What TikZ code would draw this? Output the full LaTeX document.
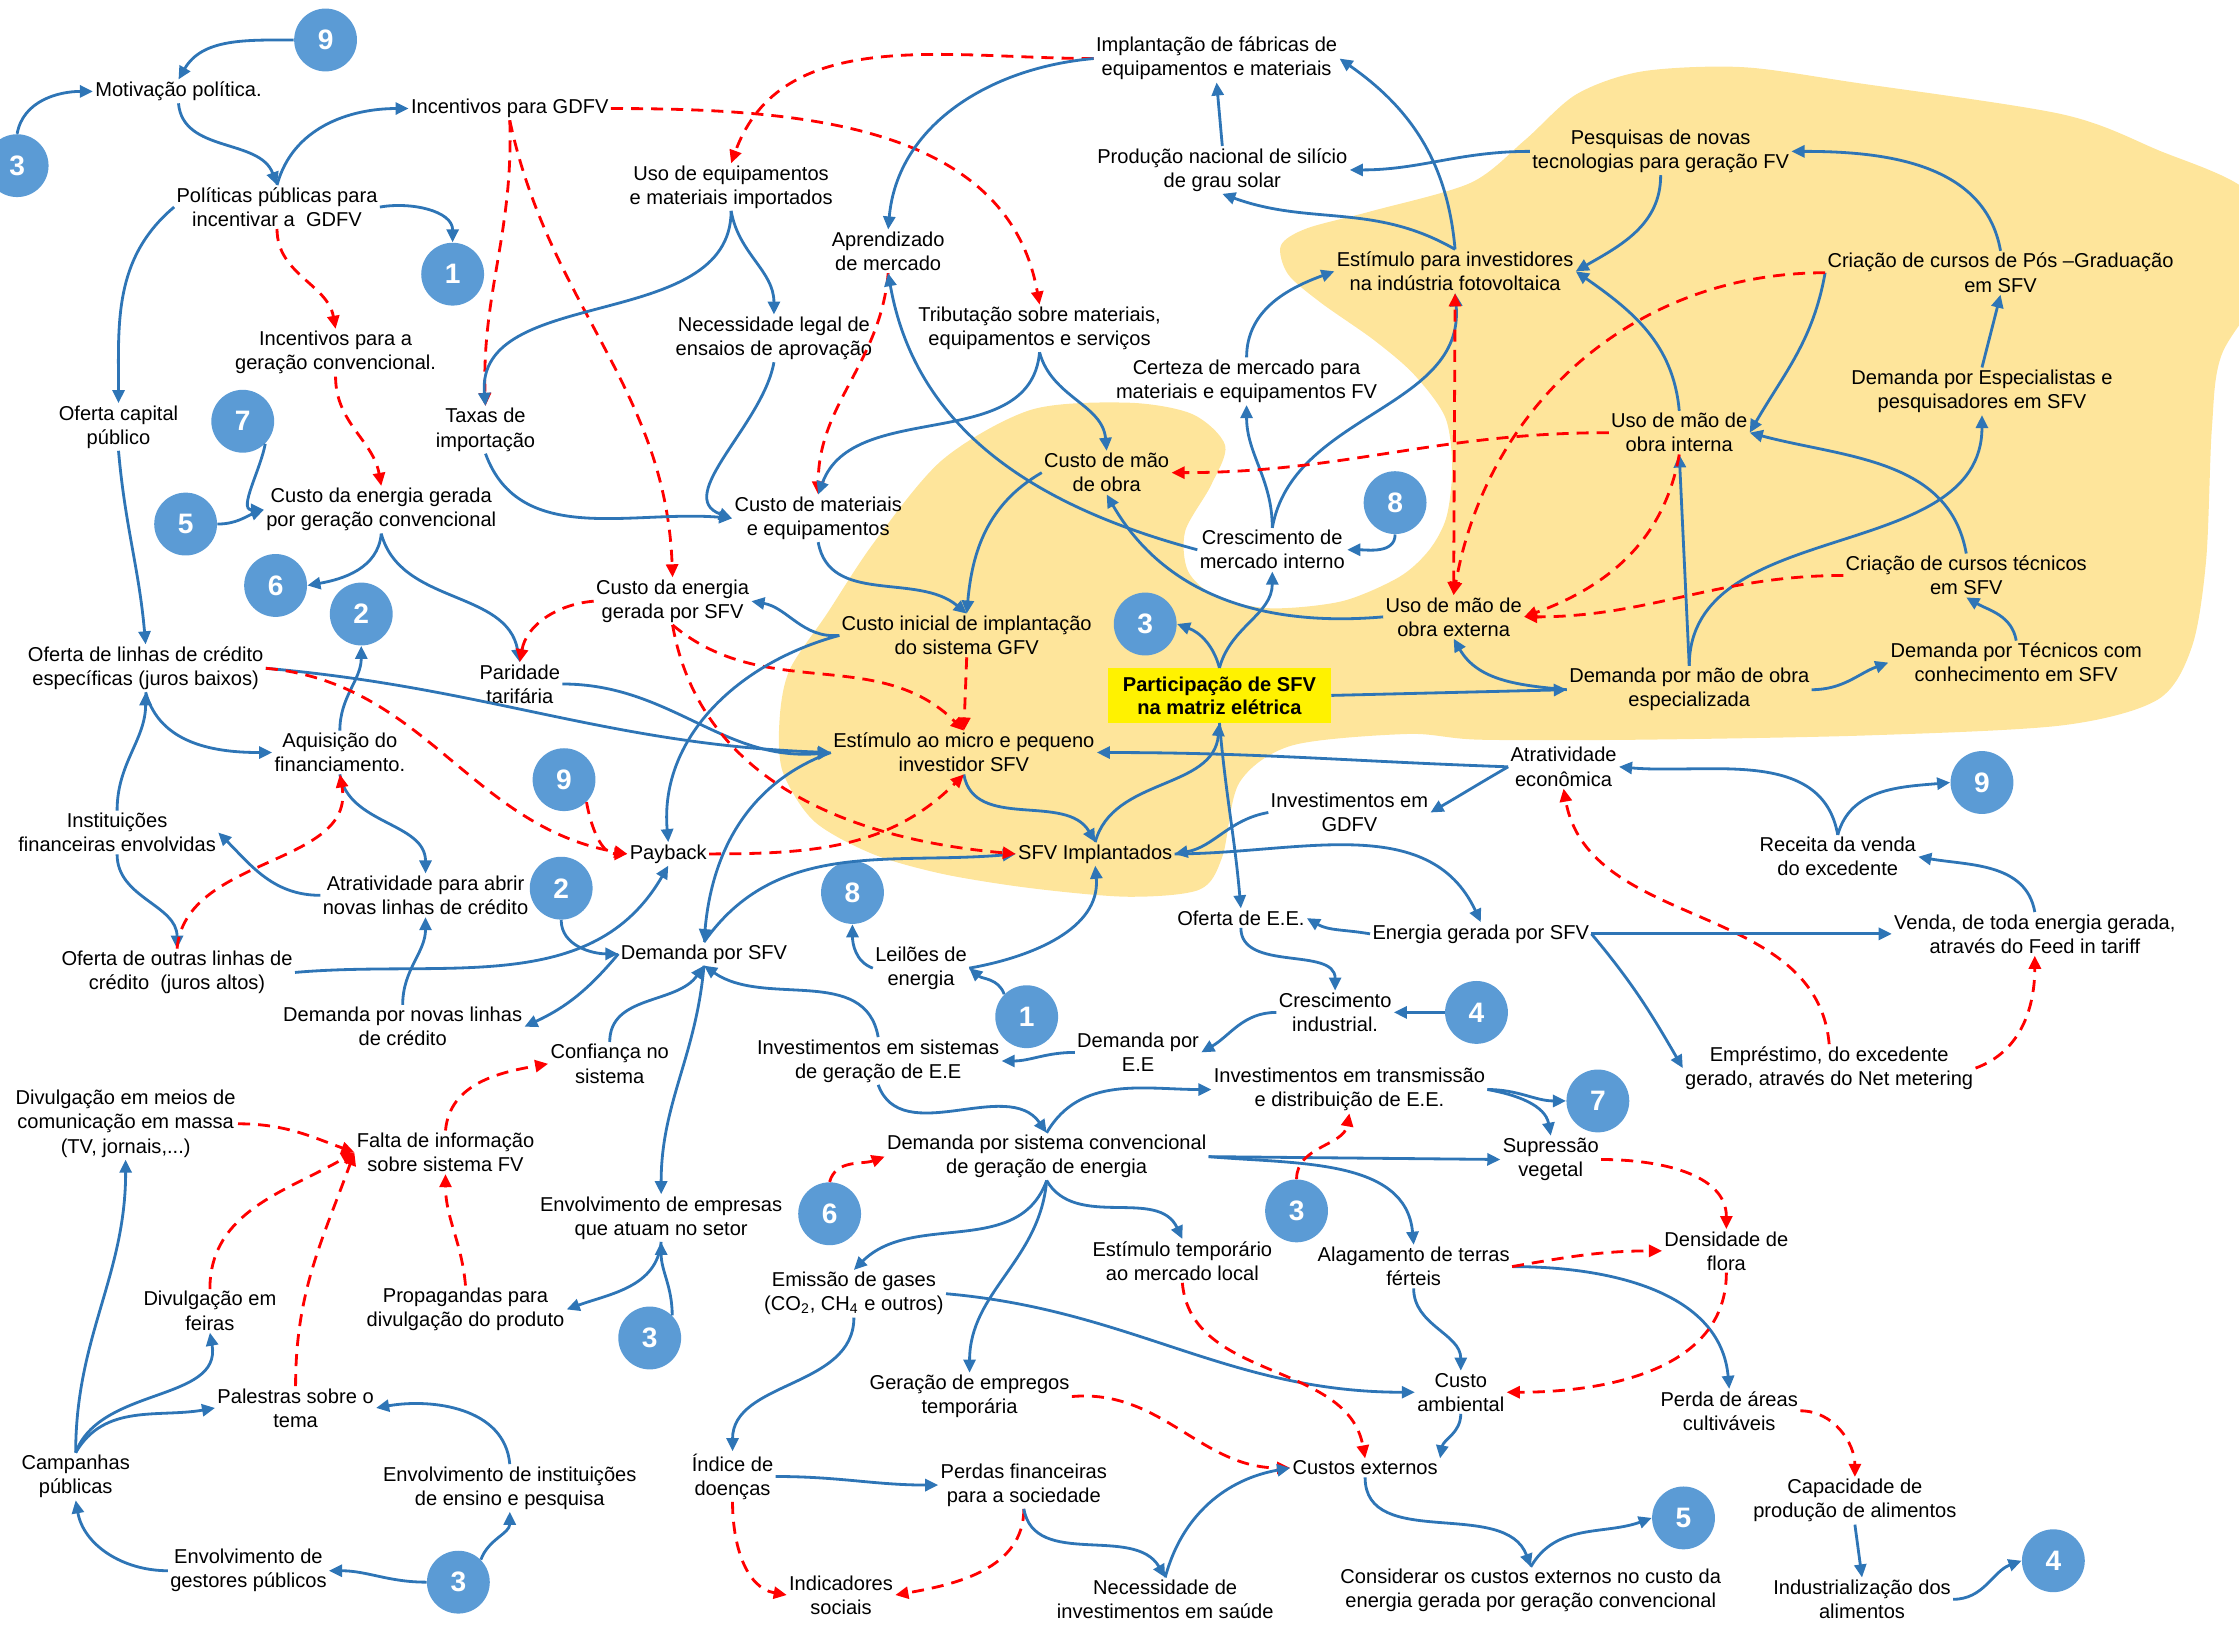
\documentclass[tikz,border=0pt]{standalone}
\usepackage{fontspec}
\setmainfont{Liberation Sans}
\usetikzlibrary{arrows.meta}
\definecolor{lineblue}{RGB}{46,117,182}
\definecolor{numblue}{RGB}{91,155,213}
\definecolor{blobyellow}{RGB}{254,229,155}

\begin{document}
\begin{tikzpicture}[x=0.025cm, y=-0.025cm,
    every node/.style={align=center, inner sep=1pt, font=\fontsize{10}{12}\selectfont},
    badge/.style={circle, fill=numblue, text=white, minimum size=1.1cm, inner sep=0pt, font=\fontsize{14}{14}\selectfont\bfseries},
    part/.style={fill=yellow, minimum width=3.9cm, minimum height=0.95cm, font=\fontsize{10}{11.5}\selectfont\bfseries},
    arr/.style={draw=lineblue, line width=1.4pt, -{Triangle[length=6.5pt,width=6pt]}},
    darr/.style={draw=red, line width=1.4pt, dash pattern=on 6pt off 4pt, -{Triangle[length=6.5pt,width=6pt]}},
    darrboth/.style={darr, {Triangle[length=6.5pt,width=6pt]}-{Triangle[length=6.5pt,width=6pt]}}]

    \useasboundingbox (0, 0) rectangle (1568, 1139);

    \fill [blobyellow] plot [smooth cycle, tension=0.5] coordinates {
        (612,380) (660,322) (722,287) (790,282) (835,290) (858,312) (848,340) (830,372)
        (832,400) (852,418) (890,426) (940,421) (980,404) (1001,385) (1013,362) (1017,327)
        (1012,292) (990,262) (962,238) (925,212) (902,192) (897,172) (915,160) (960,148)
        (1030,128) (1068,98) (1104,66) (1150,50) (1220,47) (1300,58) (1444,80) (1511,105)
        (1575,135) (1590,190) (1556,248) (1549,300) (1545,392) (1535,453) (1511,490) (1444,508)
        (1308,515) (1150,518) (1036,518) (986,514) (905,522) (868,548) (856,600) (840,623)
        (790,628) (722,622) (660,612) (611,598) (570,575) (548,540) (546,503) (553,469) (579,430)};

    \node (motiv) at (125, 64) {Motivação política.};
    \node (incgd) at (357, 76) {Incentivos para GDFV};
    \node (polit) at (194, 145) {Políticas públicas para\\incentivar a\ \ GDFV};
    \node (incconv) at (235, 247) {Incentivos para a\\geração convencional.};
    \node (ofcap) at (83, 299) {Oferta capital\\público};
    \node (custconv) at (267, 357) {Custo da energia gerada\\por geração convencional};
    \node (taxas) at (340, 301) {Taxas de\\importação};
    \node (usoeq) at (512, 131) {Uso de equipamentos\\e materiais importados};
    \node (necleg) at (542, 237) {Necessidade legal de\\ensaios de aprovação};
    \node (aprend) at (622, 176) {Aprendizado\\de mercado};
    \node (implfab) at (852, 41) {Implantação de fábricas de\\equipamentos e materiais};
    \node (prodsil) at (856, 119) {Produção nacional de silício\\de grau solar};
    \node (tribut) at (728, 230) {Tributação sobre materiais,\\equipamentos e serviços};
    \node (certeza) at (873, 267) {Certeza de mercado para\\materiais e equipamentos FV};
    \node (custmo) at (775, 331) {Custo de mão\\de obra};
    \node (custmat) at (573, 363) {Custo de materiais\\e equipamentos};
    \node (cresc) at (891, 385) {Crescimento de\\mercado interno};
    \node (estinv) at (1019, 190) {Estímulo para investidores\\na indústria fotovoltaica};
    \node (pesq) at (1163, 106) {Pesquisas de novas\\tecnologias para geração FV};
    \node (criapos) at (1401, 191) {Criação de cursos de Pós –Graduação\\em SFV};
    \node (demesp) at (1388, 274) {Demanda por Especialistas e\\pesquisadores em SFV};
    \node (usoint) at (1176, 303) {Uso de mão de\\obra interna};
    \node (criatec) at (1377, 403) {Criação de cursos técnicos\\em SFV};
    \node (demtec) at (1412, 464) {Demanda por Técnicos com\\conhecimento em SFV};
    \node (demmo) at (1183, 483) {Demanda por mão de obra\\especializada};
    \node (usoext) at (1018, 432) {Uso de mão de\\obra externa};
    \node [part] (partic) at (854, 487) {Participação de SFV\\na matriz elétrica};
    \node (custini) at (677, 445) {Custo inicial de implantação\\do sistema GFV};
    \node (custsfv) at (471, 421) {Custo da energia\\gerada por SFV};
    \node (parid) at (364, 479) {Paridade\\tarifária};
    \node (oflin) at (102, 468) {Oferta de linhas de crédito\\específicas (juros baixos)};
    \node (aquis) at (238, 527) {Aquisição do\\financiamento.};
    \node (estmic) at (675, 527) {Estímulo ao micro e pequeno\\investidor SFV};
    \node (instfin) at (82, 583) {Instituições\\financeiras envolvidas};
    \node (payback) at (468, 598) {Payback};
    \node (atrab) at (298, 627) {Atratividade para abrir\\novas linhas de crédito};
    \node (ofout) at (124, 681) {Oferta de outras linhas de\\crédito\ \ (juros altos)};
    \node (demsfv) at (493, 668) {Demanda por SFV};
    \node (demlin) at (282, 719) {Demanda por novas linhas\\de crédito};
    \node (confi) at (427, 745) {Confiança no\\sistema};
    \node (sfvimp) at (767, 598) {SFV Implantados};
    \node (leil) at (645, 678) {Leilões de\\energia};
    \node (invsis) at (615, 743) {Investimentos em sistemas\\de geração de E.E};
    \node (demee) at (797, 737) {Demanda por\\E.E};
    \node (cresind) at (935, 709) {Crescimento\\industrial.};
    \node (ofee) at (869, 643) {Oferta de E.E.};
    \node (enersfv) at (1037, 654) {Energia gerada por SFV};
    \node (invgd) at (945, 569) {Investimentos em\\GDFV};
    \node (atreco) at (1095, 537) {Atratividade\\econômica};
    \node (receita) at (1287, 600) {Receita da venda\\do excedente};
    \node (venda) at (1425, 654) {Venda, de toda energia gerada,\\através do Feed in tariff};
    \node (empr) at (1281, 748) {Empréstimo, do excedente\\gerado, através do Net metering};
    \node (invtd) at (945, 763) {Investimentos em transmissão\\e distribuição de E.E.};
    \node (supr) at (1086, 812) {Supressão\\vegetal};
    \node (demconv) at (733, 810) {Demanda por sistema convencional\\de geração de energia};
    \node (densid) at (1209, 876) {Densidade de\\flora};
    \node (alag) at (990, 887) {Alagamento de terras\\férteis};
    \node (esttemp) at (828, 883) {Estímulo temporário\\ao mercado local};
    \node (emis) at (598, 906) {Emissão de gases\\(CO\textsubscript{2}, CH\textsubscript{4} e outros)};
    \node (envemp) at (463, 853) {Envolvimento de empresas\\que atuam no setor};
    \node (falta) at (312, 807) {Falta de informação\\sobre sistema FV};
    \node (divmas) at (88, 787) {Divulgação em meios de\\comunicação em massa\\(TV, jornais,...)};
    \node (divfei) at (147, 918) {Divulgação em\\feiras};
    \node (propag) at (326, 917) {Propagandas para\\divulgação do produto};
    \node (palest) at (207, 986) {Palestras sobre o\\tema};
    \node (campan) at (53, 1034) {Campanhas\\públicas};
    \node (envinst) at (357, 1042) {Envolvimento de instituições\\de ensino e pesquisa};
    \node (envgest) at (174, 1100) {Envolvimento de\\gestores públicos};
    \node (geremp) at (679, 978) {Geração de empregos\\temporária};
    \node (custamb) at (1023, 975) {Custo\\ambiental};
    \node (perda) at (1211, 988) {Perda de áreas\\cultiváveis};
    \node (indice) at (513, 1034) {Índice de\\doenças};
    \node (perdfin) at (717, 1040) {Perdas financeiras\\para a sociedade};
    \node (custext) at (956, 1028) {Custos externos};
    \node (capac) at (1299, 1051) {Capacidade de\\produção de alimentos};
    \node (indsoc) at (589, 1117) {Indicadores\\sociais};
    \node (necinv) at (816, 1120) {Necessidade de\\investimentos em saúde};
    \node (consid) at (1072, 1114) {Considerar os custos externos no custo da\\energia gerada por geração convencional};
    \node (indust) at (1304, 1120) {Industrialização dos\\alimentos};

    \node [badge] (n9a) at (228, 28) {9};
    \node [badge] (n3a) at (12, 116) {3};
    \node [badge] (n1a) at (317, 192) {1};
    \node [badge] (n7a) at (170, 295) {7};
    \node [badge] (n5a) at (130, 367) {5};
    \node [badge] (n6a) at (193, 410) {6};
    \node [badge] (n2a) at (253, 430) {2};
    \node [badge] (n8a) at (977, 352) {8};
    \node [badge] (n3b) at (802, 437) {3};
    \node [badge] (n9b) at (395, 546) {9};
    \node [badge] (n2b) at (393, 622) {2};
    \node [badge] (n8b) at (597, 625) {8};
    \node [badge] (n1b) at (719, 712) {1};
    \node [badge] (n4a) at (1034, 709) {4};
    \node [badge] (n9c) at (1388, 548) {9};
    \node [badge] (n7b) at (1119, 771) {7};
    \node [badge] (n6b) at (581, 850) {6};
    \node [badge] (n3c) at (908, 848) {3};
    \node [badge] (n3d) at (455, 937) {3};
    \node [badge] (n3e) at (321, 1108) {3};
    \node [badge] (n5b) at (1179, 1063) {5};
    \node [badge] (n4b) at (1438, 1093) {4};

    \draw [arr] (n9a.west) to [out=180, in=60] (motiv.north);
    \draw [arr] (n3a.north) to [out=80, in=180] (motiv.west);
    \draw [arr] (motiv.south) to [out=-85, in=110] (polit.north);
    \draw [arr] (polit.north) to [out=75, in=180] (incgd.west);
    \draw [arr] (polit.east) to [out=10, in=90] (n1a.north);
    \draw [arr] (polit.west) to [out=220, in=90] (ofcap.north);
    \draw [arr] (ofcap.south) to [out=-85, in=95] (oflin.north);
    \draw [arr] (n7a.south east) to [out=-100, in=180] (custconv.west);
    \draw [arr] (n5a.east) to [out=0, in=200] (custconv.west);
    \draw [arr] (custconv.south) to [out=-95, in=10] (n6a.east);
    \draw [arr] (custconv.south) to [out=-75, in=100] (parid.north);
    \draw [darr] (polit.south) to [out=-90, in=100] (incconv.north);
    \draw [darr] (incconv.south) to [out=-90, in=100] (custconv.north);
    \draw [darr] (incgd.south) to [out=-88, in=92] (taxas.north);
    \draw [darr] (incgd.south) to [out=-78, in=92] (custsfv.north);
    \draw [darr] (incgd.east) to [out=0, in=100] (tribut.north);
    \draw [darr] (implfab.west) to [out=180, in=70] (usoeq.north);
    \draw [arr] (implfab.west) to [out=185, in=85] (aprend.north);
    \draw [arr] (prodsil.north) to (implfab.south);
    \draw [arr] (pesq.west) to [out=180, in=0] (prodsil.east);
    \draw [arr] (estinv.north) to [out=150, in=-20] (prodsil.south);
    \draw [arr] (estinv.north) to [out=95, in=-35] (implfab.east);
    \draw [arr] (pesq.south) to [out=-90, in=30] (estinv.east);
    \draw [arr] (usoint.north) to [out=95, in=-35] (estinv.east);
    \draw [arr] (criapos.north) to [out=100, in=0] (pesq.east);
    \draw [arr] (criapos.west) to [out=-100, in=60] (usoint.east);
    \draw [arr] (demesp.north) to (criapos.south);
    \draw [arr] (criatec.north) to [out=100, in=-15] (usoint.east);
    \draw [arr] (demmo.north) to (usoint.south);
    \draw [arr] (demmo.north) to [out=90, in=-90] (demesp.south);
    \draw [arr] (demmo.east) to [out=0, in=200] (demtec.west);
    \draw [arr] (demtec.north) to [out=100, in=-30] (criatec.south);
    \draw [arr] (partic.east) to (demmo.west);
    \draw [arr] (demmo.west) to [out=175, in=-60] (usoext.south);
    \draw [arr] (partic.north) to [out=105, in=-20] (n3b.east);
    \draw [arr] (partic.north) to [out=75, in=-90] (cresc.south);
    \draw [arr] (partic.south) to [out=-85, in=95] (ofee.north);
    \draw [arr] (sfvimp.north) to [out=75, in=-95] (partic.south);
    \draw [arr] (estmic.south) to [out=-80, in=120] (sfvimp.north);
    \draw [arr] (atreco.west) to [out=178, in=0] (estmic.east);
    \draw [arr] (atreco.west) to [out=210, in=30] (invgd.east);
    \draw [arr] (invgd.west) to [out=190, in=10] (sfvimp.east);
    \draw [arr] (sfvimp.east) to [out=0, in=115] (enersfv.north);
    \draw [arr] (enersfv.west) to [out=170, in=-30] (ofee.east);
    \draw [arr] (ofee.south) to [out=-90, in=90] (cresind.north);
    \draw [arr] (n4a.west) to (cresind.east);
    \draw [arr] (cresind.west) to [out=180, in=30] (demee.east);
    \draw [arr] (demee.west) to [out=180, in=0] (invsis.east);
    \draw [arr] (n1b.north west) to [out=110, in=-40] (leil.east);
    \draw [arr] (leil.east) to [out=10, in=-85] (sfvimp.south);
    \draw [arr] (leil.west) to [out=160, in=-90] (n8b.south);
    \draw [arr] (demsfv.north) to [out=55, in=185] (sfvimp.west);
    \draw [arr] (estmic.west) to [out=200, in=85] (demsfv.north);
    \draw [arr] (oflin.east) to [out=-5, in=178] (estmic.west);
    \draw [arr] (parid.east) to [out=0, in=185] (estmic.west);
    \draw [arr] (oflin.south) to [out=-75, in=180] (aquis.west);
    \draw [arr] (instfin.north) to [out=90, in=-90] (oflin.south);
    \draw [arr] (instfin.south) to [out=-90, in=90] (ofout.north);
    \draw [arr] (aquis.north) to [out=90, in=-90] (n2a.south);
    \draw [arr] (aquis.south) to [out=-80, in=90] (atrab.north);
    \draw [arr] (atrab.west) to [out=180, in=-45] (instfin.east);
    \draw [arr] (demlin.north) to [out=90, in=-90] (atrab.south);
    \draw [arr] (ofout.east) to [out=5, in=-120] (payback.south);
    \draw [arr] (n2b.south) to [out=-90, in=180] (demsfv.west);
    \draw [arr] (demsfv.west) to [out=230, in=25] (demlin.east);
    \draw [arr] (confi.north) to [out=90, in=-125] (demsfv.south);
    \draw [arr] (invsis.north) to [out=100, in=-35] (demsfv.south);
    \draw [arr] (demsfv.south) to [out=-95, in=90] (envemp.north);
    \draw [arr] (invsis.south) to [out=-70, in=125] (demconv.north);
    \draw [arr] (demconv.north) to [out=60, in=180] (invtd.west);
    \draw [arr] (invtd.east) to [out=0, in=180] (n7b.west);
    \draw [arr] (invtd.east) to [out=-10, in=100] (supr.north);
    \draw [arr] (demconv.east) to (supr.west);
    \draw [arr] (demconv.east) to [out=-5, in=95] (alag.north);
    \draw [darr] (n3c.north) to [out=90, in=-100] (invtd.south);
    \draw [darr] (n6b.north) to [out=75, in=200] (demconv.west);
    \draw [arr] (demconv.south) to [out=-110, in=45] (emis.north);
    \draw [arr] (demconv.south) to [out=-60, in=115] (esttemp.north);
    \draw [arr] (demconv.south) to [out=-95, in=90] (geremp.north);
    \draw [arr] (emis.east) to [out=-5, in=180] (custamb.west);
    \draw [arr] (emis.south) to [out=-90, in=90] (indice.north);
    \draw [arr] (alag.south) to [out=-90, in=90] (custamb.north);
    \draw [arr] (alag.east) to [out=0, in=95] (perda.north);
    \draw [darr] (alag.east) to [out=10, in=180] (densid.west);
    \draw [darr] (supr.east) to [out=0, in=90] (densid.north);
    \draw [darr] (densid.south) to [out=-90, in=0] (custamb.east);
    \draw [darr] (perda.east) to [out=0, in=90] (capac.north);
    \draw [arr] (capac.south) to (indust.north);
    \draw [arr] (indust.east) to [out=0, in=200] (n4b.west);
    \draw [arr] (custamb.south) to [out=-90, in=80] (custext.north east);
    \draw [darr] (esttemp.south) to [out=-85, in=100] (custext.north);
    \draw [darr] (geremp.east) to [out=5, in=180] (custext.west);
    \draw [arr] (custext.south) to [out=-90, in=110] (consid.north);
    \draw [arr] (consid.north) to [out=60, in=200] (n5b.west);
    \draw [arr] (indice.east) to [out=0, in=180] (perdfin.west);
    \draw [darr] (indice.south) to [out=-90, in=170] (indsoc.west);
    \draw [darr] (perdfin.south) to [out=-90, in=10] (indsoc.east);
    \draw [arr] (perdfin.south) to [out=-80, in=120] (necinv.north);
    \draw [arr] (necinv.north) to [out=75, in=190] (custext.west);

    \draw [arr] (campan.north) to [out=90, in=-90] (divmas.south);
    \draw [arr] (campan.north) to [out=70, in=-80] (divfei.south);
    \draw [arr] (campan.north) to [out=60, in=190] (palest.west);
    \draw [arr] (envgest.west) to [out=180, in=-80] (campan.south);
    \draw [arr] (n3e.west) to [out=180, in=0] (envgest.east);
    \draw [arr] (n3e.north east) to [out=70, in=-90] (envinst.south);
    \draw [arr] (envinst.north) to [out=95, in=10] (palest.east);
    \draw [arr] (n3d.north east) to [out=90, in=-90] (envemp.south);
    \draw [arr] (envemp.south) to [out=-95, in=20] (propag.east);
    \draw [darr] (divmas.east) to [out=0, in=160] (falta.west);
    \draw [darr] (divfei.north) to [out=90, in=210] (falta.west);
    \draw [darr] (palest.north) to [out=90, in=250] (falta.west);
    \draw [darr] (propag.north) to [out=95, in=-90] (falta.south);
    \draw [darr] (falta.north) to [out=85, in=190] (confi.west);

    \draw [darr] (aprend.south) to [out=-95, in=90] (custmat.north);
    \draw [arr] (tribut.south) to [out=-95, in=70] (custmat.north);
    \draw [arr] (tribut.south) to [out=-75, in=95] (custmo.north);
    \draw [arr] (taxas.south) to [out=-70, in=175] (custmat.west);
    \draw [arr] (necleg.south) to [out=-100, in=160] (custmat.west);
    \draw [arr] (usoeq.south) to [out=-90, in=95] (taxas.north);
    \draw [arr] (usoeq.south) to [out=-80, in=90] (necleg.north);
    \draw [arr] (custmat.south) to [out=-80, in=140] (custini.north);
    \draw [arr] (custmo.west) to [out=210, in=85] (custini.north);
    \draw [arr] (cresc.west) to [out=165, in=-80] (aprend.south);
    \draw [arr] (cresc.north) to [out=90, in=-90] (certeza.south);
    \draw [arr] (cresc.north) to [out=80, in=-85] (estinv.south);
    \draw [arr] (certeza.north) to [out=90, in=200] (estinv.west);
    \draw [arr] (n8a.south) to [out=-90, in=0] (cresc.east);
    \draw [arr] (usoext.west) to [out=185, in=-60] (custmo.south);
    \draw [darr] (usoint.west) to [out=180, in=0] (custmo.east);
    \draw [darr] (criapos.west) to [out=180, in=80] (usoext.north);
    \draw [darrboth] (usoext.north) to (estinv.south);
    \draw [darr] (criatec.west) to [out=180, in=0] (usoext.east);
    \draw [darr] (usoint.south) to [out=-100, in=20] (usoext.east);
    \draw [darr] (custini.south) to (estmic.north);
    \draw [darr] (custsfv.south) to [out=-40, in=135] (estmic.north);
    \draw [darr] (custsfv.south) to [out=-80, in=175] (sfvimp.west);
    \draw [darr] (payback.east) to [out=0, in=-135] (estmic.south);
    \draw [darr] (n9b.south east) to [out=-80, in=180] (payback.west);
    \draw [darr] (oflin.east) to [out=-5, in=170] (payback.west);
    \draw [darr] (custsfv.west) to [out=185, in=80] (parid.north);
    \draw [darr] (ofout.north) to [out=85, in=-80] (aquis.south);
    \draw [darr] (empr.north) to [out=95, in=-80] (atreco.south);
    \draw [darr] (empr.east) to [out=20, in=-90] (venda.south);
    \draw [arr] (enersfv.east) to (venda.west);
    \draw [arr] (enersfv.east) to [out=-50, in=120] (empr.west);
    \draw [arr] (venda.north) to [out=100, in=-10] (receita.east);
    \draw [arr] (receita.north) to [out=100, in=-5] (atreco.east);
    \draw [arr] (receita.north) to [out=75, in=185] (n9c.west);
    \draw [arr] (custini.west) to [out=185, in=-10] (custsfv.east);
    \draw [arr] (custini.west) to [out=195, in=95] (payback.north);

\end{tikzpicture}
\end{document}
